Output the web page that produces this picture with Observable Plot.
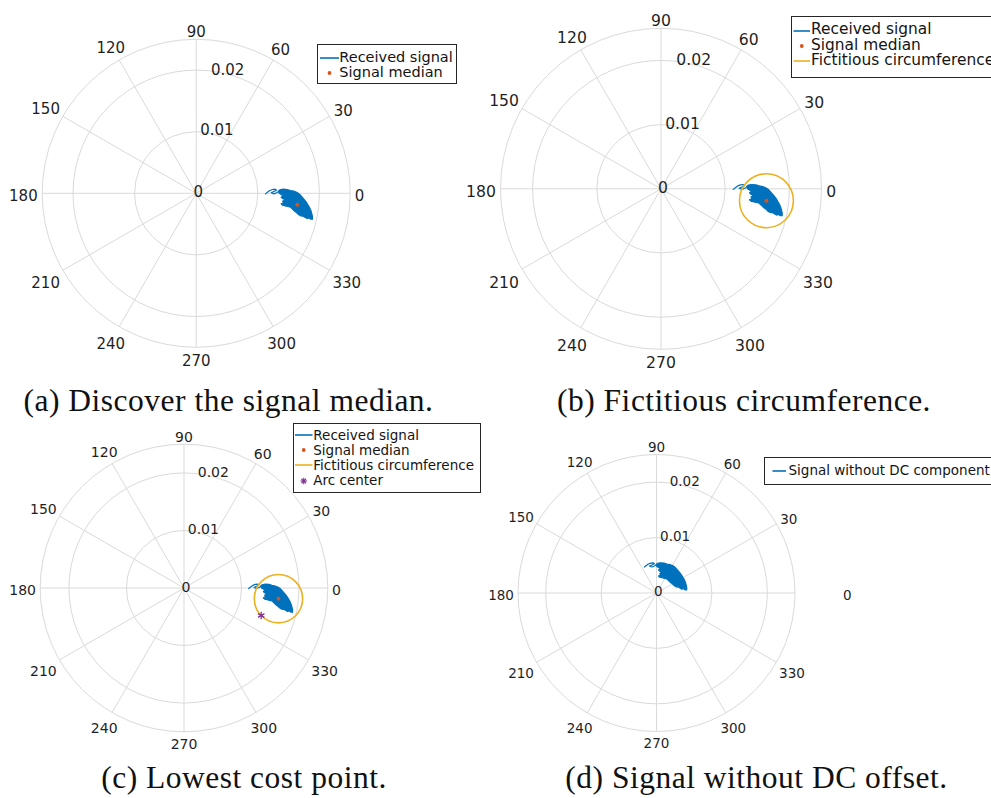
<!DOCTYPE html>
<html><head><meta charset="utf-8">
<script src="https://cdn.jsdelivr.net/npm/d3@7"></script>
<script src="https://cdn.jsdelivr.net/npm/@observablehq/plot@0.6"></script>
<style>
html,body{margin:0;padding:0;background:#fff;overflow:hidden;}
body{width:991px;height:798px;position:relative;}
.panel{position:absolute;}
.legend{position:absolute;background:#fff;border:1px solid #262626;box-sizing:border-box;font-family:"DejaVu Sans";color:#141414;overflow:hidden;}
.caption{position:absolute;width:600px;text-align:center;font-family:"Liberation Serif";font-size:31.5px;line-height:31px;letter-spacing:0.5px;color:#111;white-space:nowrap;}
</style></head><body>
<script>
// ---------- data ----------
const thetaTicks = [0, 30, 60, 90, 120, 150, 180, 210, 240, 270, 300, 330];
const rTicks = [0, 0.01, 0.02];
const rMax = 0.025;
const rAxisAngle = 80;

// received signal: outline of the dense cloud (in-phase / quadrature)
const signalI = [0.01358,0.01412,0.01477,0.01531,0.01585,0.01639,0.01682,0.01720,0.01758,0.01791,0.01818,0.01845,0.01866,0.01877,0.01888,0.01888,0.01856,0.01834,0.01801,0.01763,0.01737,0.01693,0.01661,0.01628,0.01596,0.01563,0.01531,0.01488,0.01444,0.01401,0.01379,0.01423,0.01401,0.01444,0.01401,0.01379,0.01412,0.01379,0.01347,0.01336];
const signalQ = [0.00056,0.00067,0.00062,0.00045,0.00035,0.00013,-0.00019,-0.00063,-0.00106,-0.00149,-0.00193,-0.00241,-0.00290,-0.00333,-0.00377,-0.00420,-0.00420,-0.00398,-0.00409,-0.00388,-0.00371,-0.00366,-0.00344,-0.00312,-0.00290,-0.00258,-0.00225,-0.00214,-0.00203,-0.00193,-0.00171,-0.00149,-0.00128,-0.00106,-0.00084,-0.00063,-0.00041,-0.00019,0.00002,0.00035];
// thin start of the trace (hook on the left)
const tailI = [0.01125,0.01152,0.01195,0.01239,0.01282,0.01304,0.01260,0.01217,0.01260,0.01314,0.01358];
const tailQ = [-0.00009,0.00013,0.00045,0.00062,0.00067,0.00051,0.00029,0.00008,-0.00009,0.00013,0.00045];

const medianI = 0.01642, medianQ = -0.00186;
const circleRadius = 0.0042;
const arcCenterI = 0.01342, arcCenterQ = -0.00478;

const legendA = ["Received signal", "Signal median"];
const legendB = ["Received signal", "Signal median", "Fictitious circumference"];
const legendC = ["Received signal", "Signal median", "Fictitious circumference", "Arc center"];
const legendD = ["Signal without DC component"];
const captions = ["(a) Discover the signal median.", "(b) Fictitious circumference.", "(c) Lowest cost point.", "(d) Signal without DC offset."];

// ---------- style ----------
const blue = "#0072BD", orange = "#D95319", yellow = "#EDB120", purple = "#7E2F8E";
const gridColor = "#dadada", tickColor = "#1f1f1f";

const panels = [
  {left:0,   top:0,   width:495, height:385, cx:195.7, cy:192.8, k:6160, s:1.0,   median:true, circle:false, arc:false, dc:false, zeroShift:0},
  {left:495, top:0,   width:496, height:385, cx:165.5, cy:188.3, k:6420, s:1.042, median:true, circle:true,  arc:false, dc:false, zeroShift:0},
  {left:0,   top:420, width:495, height:345, cx:183.5, cy:167.5, k:5752, s:0.934, median:true, circle:true,  arc:true,  dc:false, zeroShift:0},
  {left:495, top:420, width:496, height:345, cx:161,   cy:172.5, k:5540, s:0.9,   median:false,circle:false, arc:false, dc:true,  zeroShift:44}
];

const rad = d => d * Math.PI / 180;

function drawPanel(p) {
  const {k, s} = p;
  const fs = 15 * s;
  const labelPos = t => {
    const c = Math.cos(rad(t)), sn = Math.sin(rad(t));
    const w = String(t).length * 0.636 * fs, h = 0.8 * fs;
    const extra = t === 0 ? p.zeroShift : 0;
    const rr = rMax + (4.5 * s + extra + Math.abs(w / 2 * c) + Math.abs(h / 2 * sn)) / k;
    return [rr * c, rr * sn];
  };
  const offI = p.dc ? arcCenterI : 0, offQ = p.dc ? arcCenterQ : 0;
  const body = signalI.map((v, i) => ({x: v - offI, y: signalQ[i] - offQ}));
  const tail = tailI.map((v, i) => ({x: v - offI, y: tailQ[i] - offQ}));
  const rings = [...rTicks.filter(d => d > 0), rMax];
  const marks = [
    Plot.link(thetaTicks, {x1: () => 0, y1: () => 0, x2: d => rMax * Math.cos(rad(d)), y2: d => rMax * Math.sin(rad(d)), stroke: gridColor, strokeWidth: 1}),
    Plot.dot(rings, {x: () => 0, y: () => 0, r: d => d, stroke: gridColor, fill: "none", strokeWidth: 1}),
    Plot.text(thetaTicks, {x: d => labelPos(d)[0], y: d => labelPos(d)[1], text: d => String(d), fontSize: fs, fill: tickColor, dy: 3 * s}),
    Plot.text(rTicks.filter(d => d > 0), {x: d => d * Math.cos(rad(rAxisAngle)), y: d => d * Math.sin(rad(rAxisAngle)), text: d => String(d), fontSize: fs, fill: tickColor, dx: 10 * s, dy: -2 * s}),
    Plot.text(rTicks.filter(d => d === 0), {x: () => 0, y: () => 0, text: d => String(d), fontSize: fs, fill: tickColor, dx: 2 * s, dy: -1 * s}),
    Plot.line(body, {x: "x", y: "y", curve: "linear-closed", fill: blue, stroke: blue, strokeWidth: 1.2}),
    Plot.line(tail, {x: "x", y: "y", stroke: blue, strokeWidth: 1.2})
  ];
  if (p.median) marks.push(Plot.dot([{x: medianI, y: medianQ}], {x: "x", y: "y", r: 2 * s, fill: orange, stroke: "none"}));
  if (p.circle) marks.push(Plot.dot([{x: medianI, y: medianQ, r: circleRadius}], {x: "x", y: "y", r: "r", fill: "none", stroke: yellow, strokeWidth: 1.6}));
  if (p.arc) marks.push(Plot.dot([{x: arcCenterI, y: arcCenterQ}], {x: "x", y: "y", r: 3.5, symbol: "asterisk", stroke: purple, strokeWidth: 1.2}));

  const svg = Plot.plot({
    width: p.width, height: p.height, margin: 0,
    x: {domain: [-p.cx / k, (p.width - p.cx) / k], axis: null},
    y: {domain: [(p.cy - p.height) / k, p.cy / k], axis: null},
    r: {type: "linear", domain: [0, 1], range: [0, k]},
    style: {background: "transparent", overflow: "visible", fontFamily: "DejaVu Sans"},
    marks
  });
  const div = document.createElement("div");
  div.className = "panel";
  div.style.left = p.left + "px"; div.style.top = p.top + "px";
  div.appendChild(svg);
  document.body.appendChild(div);
}

function swatch(type, color, w, y) {
  let inner = "";
  if (type === "line") inner = `<line x1="${w[0]}" x2="${w[1]}" y1="7" y2="7" stroke="${color}" stroke-width="1.6"/>`;
  if (type === "dot") inner = `<circle cx="${(w[0] + w[1]) / 2}" cy="7" r="1.9" fill="${color}"/>`;
  if (type === "star") {
    const c = (w[0] + w[1]) / 2, r = 3.2, d = r * 0.7071;
    inner = `<g stroke="${color}" stroke-width="1.1"><line x1="${c - r}" x2="${c + r}" y1="7" y2="7"/><line x1="${c}" x2="${c}" y1="${7 - r}" y2="${7 + r}"/><line x1="${c - d}" x2="${c + d}" y1="${7 - d}" y2="${7 + d}"/><line x1="${c - d}" x2="${c + d}" y1="${7 + d}" y2="${7 - d}"/></g>`;
  }
  return `<svg style="position:absolute;left:0;top:${y - 7}px" width="${w[1] + 2}" height="14">${inner}</svg>`;
}

function drawLegend(cfg) {
  const div = document.createElement("div");
  div.className = "legend";
  Object.assign(div.style, {left: cfg.left + "px", top: cfg.top + "px", width: cfg.width + "px", height: cfg.height + "px", fontSize: cfg.fs + "px"});
  let html = "";
  const lh = cfg.fs * 0.9;
  cfg.labels.forEach((label, i) => {
    const y = cfg.rows[i];
    html += swatch(cfg.types[i][0], cfg.types[i][1], cfg.sw, y);
    html += `<div style="position:absolute;left:${cfg.textLeft}px;top:${y - lh / 2 - 0.5}px;height:${lh}px;line-height:${lh}px;white-space:nowrap">${label}</div>`;
  });
  div.innerHTML = html;
  document.body.appendChild(div);
}

panels.forEach(drawPanel);

const types4 = [["line", blue], ["dot", orange], ["line", yellow], ["star", purple]];
drawLegend({left: 316.7, top: 44.3, width: 140, height: 40, fs: 14.5, labels: legendA, types: types4, rows: [12.3, 27.6], sw: [2, 21], textLeft: 21.6});
drawLegend({left: 791, top: 15.7, width: 212, height: 62.6, fs: 15.4, labels: legendB, types: types4, rows: [14.2, 29.4, 44.4], sw: [1.5, 18], textLeft: 19});
drawLegend({left: 293.3, top: 423.3, width: 187.7, height: 70, fs: 13.5, labels: legendC, types: types4, rows: [11, 26, 41, 56.6], sw: [1, 18.5], textLeft: 19});
drawLegend({left: 764, top: 456.5, width: 240, height: 28, fs: 13.5, labels: legendD, types: [["line", blue]], rows: [13.5], sw: [7.5, 21], textLeft: 23.5});

const capPos = [[228.5, 385], [744, 385], [244, 762], [756.5, 762]];
captions.forEach((t, i) => {
  const d = document.createElement("div");
  d.className = "caption";
  d.style.left = (capPos[i][0] - 300) + "px";
  d.style.top = capPos[i][1] + "px";
  d.textContent = t;
  document.body.appendChild(d);
});
</script>
</body></html>
